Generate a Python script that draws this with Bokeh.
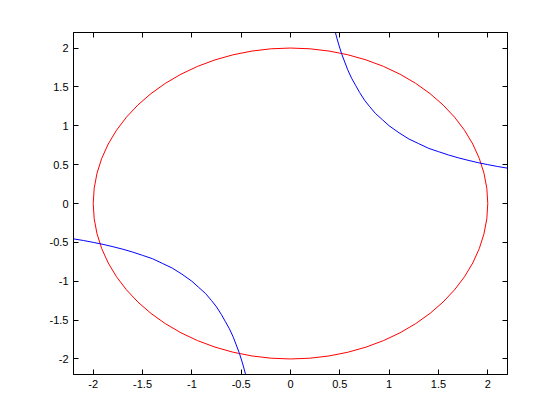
from bokeh.plotting import figure
from bokeh.models import Range1d, LinearAxis, FixedTicker
from bokeh.embed import file_html
from bokeh.resources import INLINE

# Circle (center and diameter)
circle_x = [0.0]
circle_y = [0.0]
circle_diam = [4.0]

# Blue curve, upper-right branch
b1_x = [0.455, 0.47, 0.49, 0.5, 0.52, 0.55, 0.58, 0.62, 0.66, 0.7, 0.75, 0.8, 0.86, 0.93,
        1.0, 1.1, 1.2, 1.3, 1.4, 1.5, 1.6, 1.7, 1.8, 1.9, 2.0, 2.1, 2.2]
b1_y = [2.2, 2.13, 2.04, 2.0, 1.92, 1.82, 1.72, 1.61, 1.52, 1.43, 1.33, 1.25, 1.16, 1.08,
        1.0, 0.91, 0.83, 0.77, 0.71, 0.667, 0.625, 0.588, 0.556, 0.526, 0.5, 0.476, 0.455]
# lower-left branch
b2_x = [-2.2, -2.1, -2.0, -1.9, -1.8, -1.7, -1.6, -1.5, -1.4, -1.3, -1.2, -1.1, -1.0,
        -0.93, -0.86, -0.8, -0.75, -0.7, -0.66, -0.62, -0.58, -0.55, -0.52, -0.5, -0.49, -0.47, -0.455]
b2_y = [-0.455, -0.476, -0.5, -0.526, -0.556, -0.588, -0.625, -0.667, -0.71, -0.77, -0.83, -0.91, -1.0,
        -1.08, -1.16, -1.25, -1.33, -1.43, -1.52, -1.61, -1.72, -1.82, -1.92, -2.0, -2.04, -2.13, -2.2]

ticks = [-2, -1.5, -1, -0.5, 0, 0.5, 1, 1.5, 2]
tick_labels = ["-2", "-1.5", "-1", "-0.5", "0", "0.5", "1", "1.5", "2"]

p = figure(width=544, height=404, output_backend="svg", toolbar_location=None,
           x_range=Range1d(-2.2, 2.2), y_range=Range1d(-2.2, 2.2),
           min_border_left=73, min_border_right=37, min_border_top=32, min_border_bottom=30,
           x_axis_location=None, y_axis_location=None)
p.grid.visible = False
p.outline_line_color = "black"
p.outline_line_width = 1

p.ellipse(x=circle_x, y=circle_y, width=circle_diam, height=circle_diam,
          fill_color=None, line_color="#ff0000", line_width=1)
p.line(b1_x, b1_y, line_color="#0000ff", line_width=1)
p.line(b2_x, b2_y, line_color="#0000ff", line_width=1)

overrides = {t: l for t, l in zip(ticks, tick_labels)}

for loc in ["below", "left", "above", "right"]:
    ax = LinearAxis(ticker=FixedTicker(ticks=ticks))
    ax.major_tick_in = 5
    ax.major_tick_out = 0
    ax.minor_tick_in = 0
    ax.minor_tick_out = 0
    ax.axis_line_color = "black"
    ax.major_tick_line_color = "black"
    ax.major_label_text_font = "Liberation Sans"
    ax.major_label_text_font_size = "11px"
    ax.major_label_text_color = "black"
    ax.major_label_overrides = overrides
    if loc in ("above", "right"):
        ax.major_label_text_color = None
        ax.major_label_text_font_size = "0px"
        ax.major_label_standoff = 0
    else:
        ax.major_label_standoff = 5
    p.add_layout(ax, loc)

open("out.html", "w").write(file_html(p, INLINE))
